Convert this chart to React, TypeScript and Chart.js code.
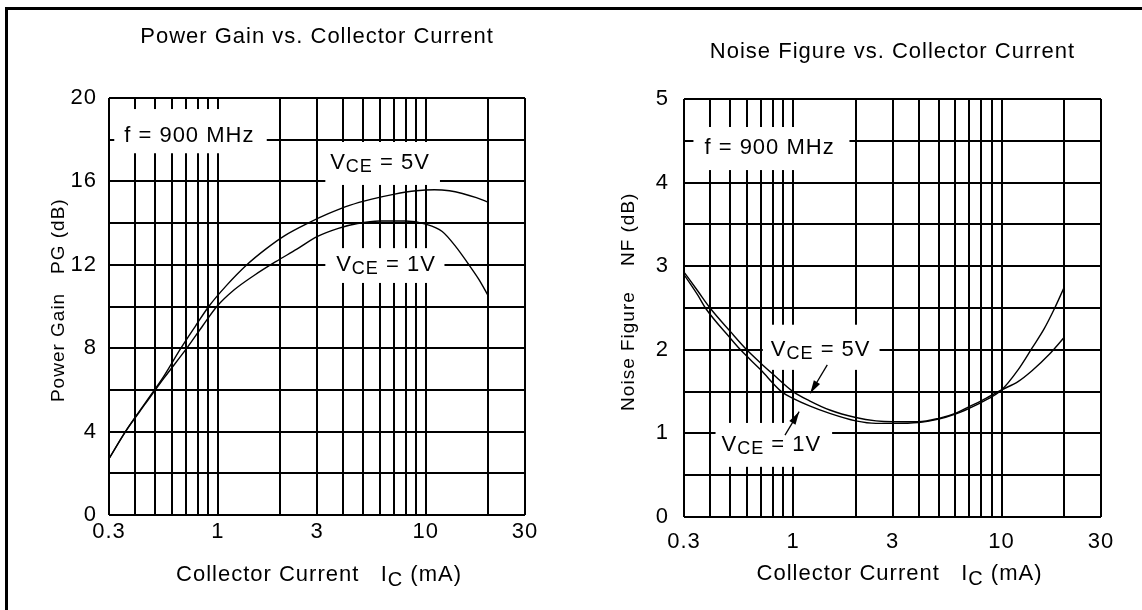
import React, { useEffect, useRef } from "react";
import { Chart, registerables } from "chart.js";

Chart.register(...registerables);

// ---------- data ----------
const currentGrid = [0.3, 0.4, 0.5, 0.6, 0.7, 0.8, 0.9, 1, 2, 3, 4, 5, 6, 7, 8, 9, 10, 20, 30];
const currentLabels = [0.3, 1, 3, 10, 30];

const pgGrid = [0, 2, 4, 6, 8, 10, 12, 14, 16, 18, 20];
const pgLabels = [0, 4, 8, 12, 16, 20];
const nfGrid = [0, 0.5, 1, 1.5, 2, 2.5, 3, 3.5, 4, 4.5, 5];
const nfLabels = [0, 1, 2, 3, 4, 5];

const pgCurrent5V = [0.3, 0.36, 0.45, 0.55, 0.665, 0.78, 0.905, 1.1, 1.38, 1.7, 2.1, 2.72, 3.4, 4.3, 5.5, 7, 9, 11, 13, 15, 17.5, 20];
const pgGain5V = [2.7, 4.0, 5.4, 6.65, 8.0, 9.05, 10.0, 11.0, 12.0, 12.75, 13.4, 14.0, 14.45, 14.85, 15.15, 15.38, 15.55, 15.6, 15.55, 15.42, 15.22, 15.0];

const pgCurrent1V = [0.3, 0.36, 0.45, 0.55, 0.71, 0.85, 0.99, 1.2, 1.5, 1.9, 2.4, 3, 3.8, 4.7, 6, 8, 10, 12, 14, 16, 18, 20];
const pgGain1V = [2.7, 4.0, 5.35, 6.55, 8.0, 9.1, 10.0, 10.8, 11.5, 12.15, 12.75, 13.35, 13.75, 13.98, 14.1, 14.1, 13.95, 13.6, 12.85, 12.05, 11.3, 10.5];

const nfCurrent5V = [0.3, 0.35, 0.4, 0.5, 0.6, 0.7, 0.8, 1.0, 1.2, 1.5, 2, 2.5, 3, 4, 5, 6, 7, 8, 10, 12, 14, 17, 20];
const nfValue5V = [2.93, 2.7, 2.5, 2.22, 2.0, 1.84, 1.71, 1.5, 1.39, 1.28, 1.19, 1.15, 1.14, 1.14, 1.18, 1.24, 1.32, 1.39, 1.52, 1.62, 1.75, 1.95, 2.15];

const nfCurrent1V = [0.3, 0.35, 0.38, 0.5, 0.56, 0.7, 0.88, 1.0, 1.2, 1.5, 2, 2.5, 3, 4, 5, 6, 7, 8, 10, 12, 14, 16, 18, 20];
const nfValue1V = [2.9, 2.65, 2.5, 2.14, 2.0, 1.76, 1.5, 1.42, 1.33, 1.24, 1.15, 1.12, 1.12, 1.13, 1.17, 1.23, 1.3, 1.37, 1.52, 1.76, 2.02, 2.25, 2.5, 2.75];

// ---------- styling helpers ----------
const FONT = '"Liberation Sans", Arial, Helvetica, sans-serif';
const INK = "#000";
const SPACING = "1px";

type Seg = { t: string; size: number; dy?: number };

function vceLabel(v: string): Seg[] {
  return [
    { t: "V", size: 22 },
    { t: "CE", size: 18, dy: 4 },
    { t: " = " + v, size: 22 },
  ];
}

function drawRich(ctx: CanvasRenderingContext2D, segs: Seg[], x: number, y: number, align: "left" | "center") {
  const widths = segs.map((s) => {
    ctx.font = `${s.size}px ${FONT}`;
    return ctx.measureText(s.t).width;
  });
  const total = widths.reduce((a, b) => a + b, 0);
  let cx = align === "center" ? x - total / 2 : x;
  ctx.textAlign = "left";
  ctx.textBaseline = "middle";
  ctx.fillStyle = INK;
  segs.forEach((s, i) => {
    ctx.font = `${s.size}px ${FONT}`;
    ctx.fillText(s.t, cx, y + (s.dy || 0));
    cx += widths[i];
  });
}

function setSpacing(chart: any) {
  const ctx: any = chart.ctx;
  if (ctx && "letterSpacing" in ctx) ctx.letterSpacing = SPACING;
}

const annotPlugin = {
  id: "annot",
  beforeLayout(chart: any) {
    setSpacing(chart);
  },
  beforeDraw(chart: any) {
    setSpacing(chart);
  },
  beforeDatasetsDraw(chart: any, _args: any, opts: any) {
    const { ctx, scales } = chart;
    const xs = scales.x;
    const ys = scales.y;
    ctx.save();
    ctx.fillStyle = "#fff";
    (opts.boxes || []).forEach((b: any) => {
      const x0 = xs.getPixelForValue(b.x0);
      const x1 = xs.getPixelForValue(b.x1);
      const y0 = ys.getPixelForValue(b.y1);
      const y1 = ys.getPixelForValue(b.y0);
      ctx.fillRect(x0, y0, x1 - x0, y1 - y0);
    });
    ctx.restore();
  },
  afterDatasetsDraw(chart: any, _args: any, opts: any) {
    const { ctx, scales } = chart;
    const xs = scales.x;
    const ys = scales.y;
    ctx.save();
    (opts.texts || []).forEach((t: any) => {
      drawRich(ctx, t.segs, xs.getPixelForValue(t.x), ys.getPixelForValue(t.y), "left");
    });
    (opts.arrows || []).forEach((a: any) => {
      const x0 = xs.getPixelForValue(a.x0);
      const y0 = ys.getPixelForValue(a.y0);
      const x1 = xs.getPixelForValue(a.x1);
      const y1 = ys.getPixelForValue(a.y1);
      ctx.strokeStyle = INK;
      ctx.fillStyle = INK;
      ctx.lineWidth = 1.3;
      ctx.beginPath();
      ctx.moveTo(x0, y0);
      ctx.lineTo(x1, y1);
      ctx.stroke();
      const ang = Math.atan2(y1 - y0, x1 - x0);
      const len = 13;
      const hw = 3.6;
      ctx.beginPath();
      ctx.moveTo(x1, y1);
      ctx.lineTo(x1 - len * Math.cos(ang) + hw * Math.sin(ang), y1 - len * Math.sin(ang) - hw * Math.cos(ang));
      ctx.lineTo(x1 - len * Math.cos(ang) - hw * Math.sin(ang), y1 - len * Math.sin(ang) + hw * Math.cos(ang));
      ctx.closePath();
      ctx.fill();
    });
    ctx.restore();
  },
  afterDraw(chart: any, _args: any, opts: any) {
    if (!opts.xTitle) return;
    const { ctx, chartArea } = chart;
    ctx.save();
    const cx = (chartArea.left + chartArea.right) / 2 + opts.xTitle.dx;
    drawRich(ctx, opts.xTitle.segs, cx, opts.xTitle.y, "center");
    ctx.restore();
  },
};

function series(xs: number[], ys: number[]) {
  return xs.map((x, i) => ({ x, y: ys[i] }));
}

function lineDs(label: string, xs: number[], ys: number[]) {
  return {
    label,
    data: series(xs, ys),
    borderColor: INK,
    backgroundColor: INK,
    borderWidth: 1.4,
    pointRadius: 0,
    fill: false,
    cubicInterpolationMode: "monotone" as const,
  };
}

function makeConfig(p: any): any {
  return {
    type: "line",
    data: { datasets: p.datasets },
    plugins: [annotPlugin],
    options: {
      animation: false,
      responsive: false,
      devicePixelRatio: 1,
      layout: { padding: { left: 0, right: p.padRight, top: 0, bottom: 0 } },
      plugins: {
        legend: { display: false },
        tooltip: { enabled: false },
        title: {
          display: true,
          fullSize: false,
          text: p.title,
          color: INK,
          font: { size: 22, weight: "normal", family: FONT },
          padding: { top: p.titleTop, bottom: p.titleBottom },
        },
        annot: p.annot,
      },
      scales: {
        x: {
          type: "logarithmic",
          min: 0.3,
          max: 30,
          afterBuildTicks: (s: any) => {
            s.ticks = currentGrid.map((v) => ({ value: v }));
          },
          ticks: {
            autoSkip: false,
            maxRotation: 0,
            minRotation: 0,
            padding: p.xTickPad,
            color: INK,
            font: { size: 22, family: FONT },
            callback: (v: any) => (currentLabels.includes(Number(v)) ? String(v) : ""),
          },
          grid: { color: INK, lineWidth: 2, drawTicks: false },
          border: { display: false },
          afterFit: (s: any) => {
            s.height = p.xAxisH;
          },
        },
        y: {
          type: "linear",
          min: 0,
          max: p.yMax,
          afterBuildTicks: (s: any) => {
            s.ticks = p.yGrid.map((v: number) => ({ value: v }));
          },
          ticks: {
            autoSkip: false,
            padding: p.yTickPad,
            color: INK,
            font: { size: 22, family: FONT },
            callback: (v: any) => (p.yLabels.includes(Number(v)) ? String(v) : ""),
          },
          grid: { color: INK, lineWidth: 2, drawTicks: false },
          border: { display: false },
          title: {
            display: true,
            text: p.yTitle,
            color: INK,
            font: { size: 19, family: FONT },
            padding: { top: p.yTitlePad, bottom: 0 },
          },
          afterFit: (s: any) => {
            s.width = p.yAxisW;
          },
        },
      },
    },
  };
}

const xTitleSegs: Seg[] = [
  { t: "Collector Current   I", size: 22 },
  { t: "C", size: 20, dy: 5 },
  { t: " (mA)", size: 22 },
];

export default function App() {
  const c1 = useRef<HTMLCanvasElement>(null);
  const c2 = useRef<HTMLCanvasElement>(null);

  useEffect(() => {
    Chart.defaults.font.family = FONT;
    Chart.defaults.color = INK;

    const cfg1 = makeConfig({
      title: "Power Gain vs. Collector Current",
      titleTop: 24,
      titleBottom: 47.6,
      padRight: 46,
      yAxisW: 109,
      xAxisH: 95,
      xTickPad: 4,
      yTickPad: 12,
      yMax: 20,
      yGrid: pgGrid,
      yLabels: pgLabels,
      yTitle: "  Power Gain   PG (dB)",
      yTitlePad: 47,
      datasets: [lineDs("VCE = 5V", pgCurrent5V, pgGain5V), lineDs("VCE = 1V", pgCurrent1V, pgGain1V)],
      annot: {
        boxes: [
          { x0: 0.318, x1: 1.72, y0: 17.35, y1: 19.47 },
          { x0: 3.29, x1: 11.7, y0: 15.83, y1: 17.89 },
          { x0: 3.29, x1: 12.3, y0: 11.13, y1: 12.8 },
        ],
        texts: [
          { x: 0.355, y: 18.2, segs: [{ t: "f = 900 MHz", size: 22 }] },
          { x: 3.47, y: 16.9, segs: vceLabel("5V") },
          { x: 3.71, y: 12.0, segs: vceLabel("1V") },
        ],
        arrows: [],
        xTitle: { y: 575, dx: 2, segs: xTitleSegs },
      },
    });

    const cfg2 = makeConfig({
      title: "Noise Figure vs. Collector Current",
      titleTop: 38.8,
      titleBottom: 33.8,
      padRight: 41,
      yAxisW: 113,
      xAxisH: 93,
      xTickPad: 12,
      yTickPad: 15,
      yMax: 5,
      yGrid: nfGrid,
      yLabels: nfLabels,
      yTitle: "  Noise Figure    NF (dB)",
      yTitlePad: 46,
      datasets: [lineDs("VCE = 5V", nfCurrent5V, nfValue5V), lineDs("VCE = 1V", nfCurrent1V, nfValue1V)],
      annot: {
        boxes: [
          { x0: 0.333, x1: 1.865, y0: 4.15, y1: 4.665 },
          { x0: 0.716, x1: 2.6, y0: 1.76, y1: 2.3 },
          { x0: 0.425, x1: 1.54, y0: 0.6, y1: 1.125 },
        ],
        texts: [
          { x: 0.376, y: 4.42, segs: [{ t: "f = 900 MHz", size: 22 }] },
          { x: 0.783, y: 2.0, segs: vceLabel("5V") },
          { x: 0.454, y: 0.86, segs: vceLabel("1V") },
        ],
        arrows: [
          { x0: 1.46, y0: 1.82, x1: 1.21, y1: 1.48 },
          { x0: 0.915, y0: 0.98, x1: 1.07, y1: 1.26 },
        ],
        xTitle: { y: 574, dx: 7, segs: xTitleSegs },
      },
    });

    const ch1 = new Chart(c1.current!, cfg1);
    const ch2 = new Chart(c2.current!, cfg2);
    return () => {
      ch1.destroy();
      ch2.destroy();
    };
  }, []);

  return (
    <div
      style={{
        position: "fixed",
        left: 0,
        top: 0,
        width: 1142,
        height: 610,
        background: "#fff",
        overflow: "hidden",
      }}
    >
      <canvas
        ref={c1}
        width={571}
        height={610}
        style={{ position: "absolute", left: 0, top: 0, width: 571, height: 610 }}
      />
      <canvas
        ref={c2}
        width={571}
        height={610}
        style={{ position: "absolute", left: 571, top: 0, width: 571, height: 610 }}
      />
      <div
        style={{
          position: "absolute",
          left: 5,
          top: 7,
          width: 1160,
          height: 640,
          borderLeft: "3px solid #000",
          borderTop: "3px solid #000",
          pointerEvents: "none",
        }}
      />
    </div>
  );
}
